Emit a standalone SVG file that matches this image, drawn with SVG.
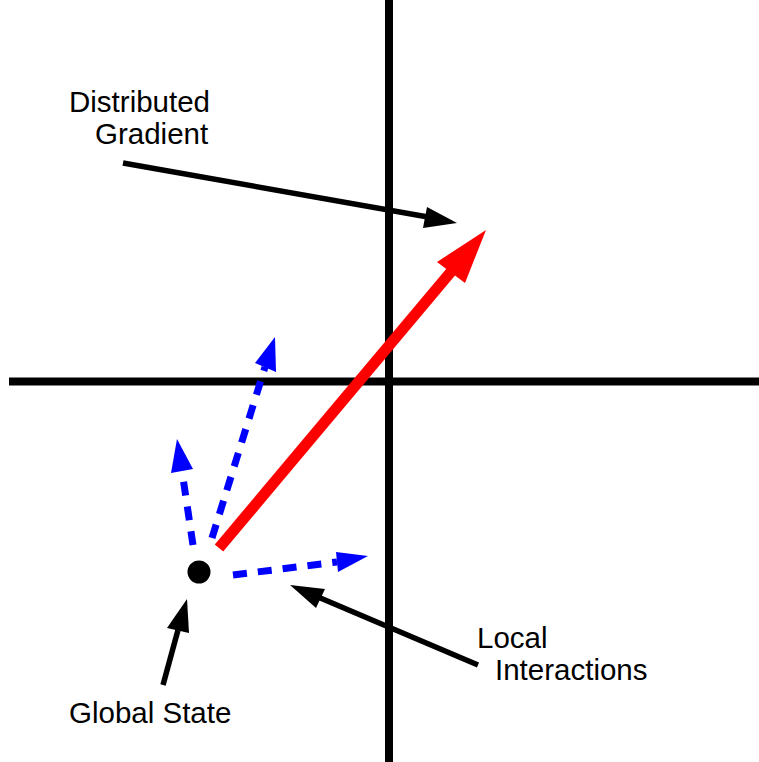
<svg xmlns="http://www.w3.org/2000/svg" width="759" height="762" viewBox="0 0 759 762">
<style>
.axis{stroke:#000;stroke-width:8;fill:none}
.lbl{font-family:"Liberation Sans",Arial,sans-serif;font-size:29.5px;fill:#000}
.blk{stroke:#000;stroke-width:5.5;fill:none}
.blue{stroke:#0000ff;stroke-width:7;fill:none;stroke-dasharray:14 11}
.red{stroke:#ff0000;stroke-width:11;fill:none}
</style>
<rect width="759" height="762" fill="#fff"/>
<g id="axes">
<line class="axis" x1="389" y1="0" x2="389" y2="762"/>
<line class="axis" x1="9" y1="381.5" x2="759" y2="381.5"/>
</g>
<g id="connectors">
<line class="red" x1="219" y1="548" x2="455" y2="267"/>
<polygon fill="#ff0000" points="486,230 437,262 465,283"/>
<line class="blue" x1="212" y1="538" x2="265" y2="367"/>
<polygon fill="#0000ff" points="275,337 255,363 276,372"/>
<line class="blue" x1="193" y1="545" x2="182" y2="471"/>
<polygon fill="#0000ff" points="177,439 171,473 193,469"/>
<line class="blue" x1="233" y1="575" x2="337" y2="562"/>
<polygon fill="#0000ff" points="368,556 336,552 338,572"/>
<line class="blk" x1="123" y1="163" x2="428" y2="217"/>
<polygon fill="#000" points="457,223 427,207 423,228"/>
<line class="blk" x1="478" y1="665" x2="318" y2="597"/>
<polygon fill="#000" points="290,585 325,589 316,608"/>
<line class="blk" x1="163" y1="685" x2="178" y2="630"/>
<polygon fill="#000" points="187,599 167,628 189,633"/>
</g>
<g id="global-state-dot">
<circle cx="199" cy="572" r="9" fill="#000" stroke="#000" stroke-width="5"/>
</g>
<g id="label-distributed">
<text class="lbl" x="69" y="112">Distributed</text>
<text class="lbl" x="95" y="144">Gradient</text>
</g>
<g id="label-local">
<text class="lbl" x="477" y="648">Local</text>
<text class="lbl" x="495" y="680">Interactions</text>
</g>
<g id="label-global">
<text class="lbl" x="69" y="723">Global State</text>
</g>
</svg>
